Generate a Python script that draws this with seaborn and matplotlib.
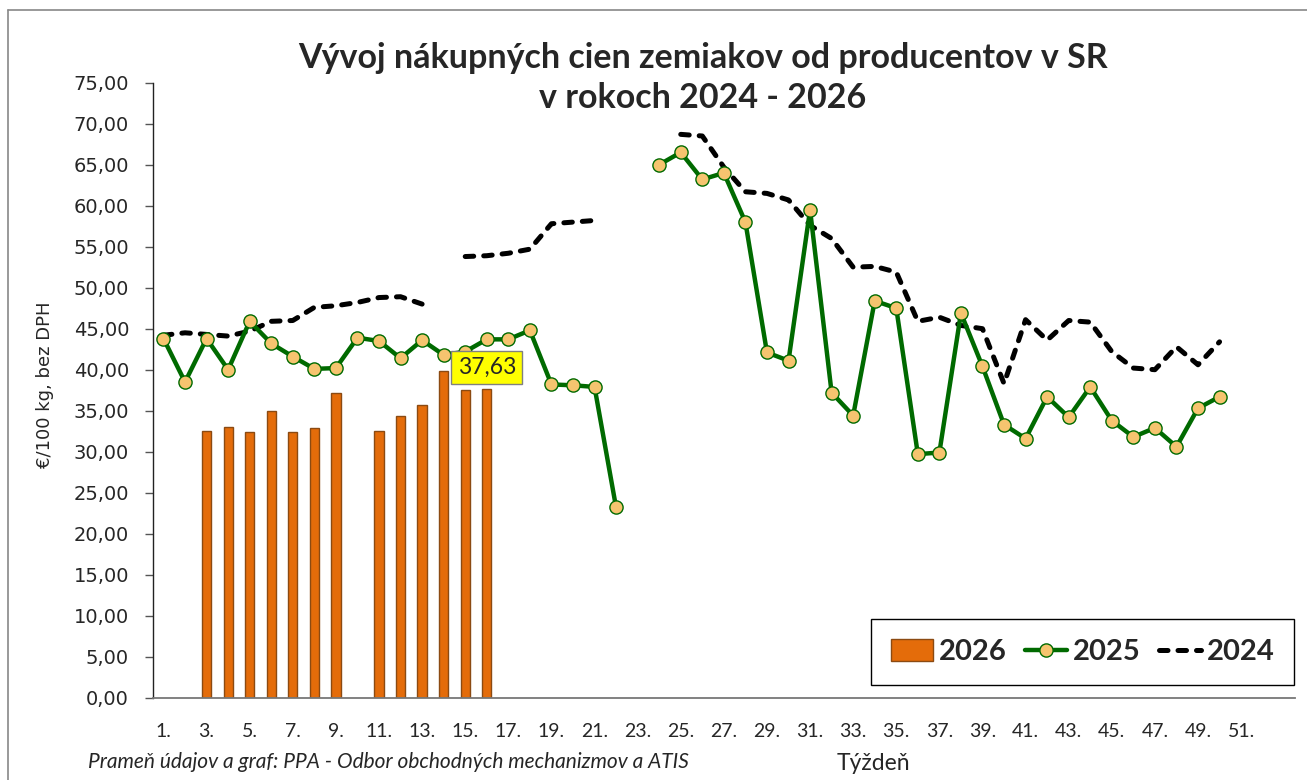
import numpy as np
import pandas as pd
import matplotlib
matplotlib.use("Agg")
import matplotlib.pyplot as plt
import seaborn as sns
from matplotlib.patches import Patch
from matplotlib.lines import Line2D

nan = np.nan
weeks = list(range(1, 54))
tick_weeks = list(range(1, 53, 2))
tick_labels = [f"{w}." for w in tick_weeks]

y2026 = [nan, nan, 32.5, 33.0, 32.4, 35.0, 32.4, 32.9, 37.1, nan,
         32.5, 34.3, 35.7, 39.8, 37.5, 37.63] + [nan] * 37
y2025 = [43.8, 38.5, 43.8, 40.0, 45.9, 43.2, 41.6, 40.1, 40.2, 43.9,
         43.5, 41.4, 43.6, 41.8, 42.2, 43.7, 43.7, 44.8, 38.2, 38.1,
         37.9, 23.2, nan, 65.0, 66.5, 63.2, 64.0, 58.0, 42.1, 41.1,
         59.5, 37.2, 34.4, 48.4, 47.5, 29.7, 29.9, 46.9, 40.4, 33.3,
         31.6, 36.7, 34.2, 37.9, 33.8, 31.8, 32.9, 30.6, 35.3, 36.7,
         nan, nan, nan]
y2024 = [44.2, 44.5, 44.3, 44.1, 44.7, 45.9, 46.0, 47.6, 47.8, 48.2,
         48.8, 48.9, 48.0, nan, 53.8, 53.9, 54.2, 54.7, 57.8, 58.0,
         58.2, nan, nan, nan, 68.7, 68.5, 64.7, 61.7, 61.5, 60.7,
         57.6, 56.0, 52.5, 52.6, 51.9, 45.9, 46.4, 45.4, 45.0, 38.3,
         46.1, 43.6, 46.0, 45.8, 42.2, 40.2, 40.0, 42.8, 40.6, 43.4,
         nan, nan, nan]
label_week = 16
label_value = 37.63

ORANGE = "#E46C0A"
ORANGE_EDGE = "#8B4A12"
GREEN = "#006A00"
MARKER_FACE = "#F6C46F"

sns.set_theme(style="white")
plt.rcParams["font.family"] = ["DejaVu Sans"]

W, H = 1307, 780
fig = plt.figure(figsize=(W / 100, H / 100), dpi=100)
ax = fig.add_axes([152.7 / W, 1 - 697.7 / H, (1295 - 152.7) / W, (697.7 - 82.7) / H])

df = pd.DataFrame({"week": weeks, "y2026": y2026, "y2025": y2025, "y2024": y2024})

# bars 2026
bars = df.dropna(subset=["y2026"])
sns.barplot(data=bars, x="week", y="y2026", native_scale=True, width=0.43,
            color=ORANGE, edgecolor=ORANGE_EDGE, linewidth=1.0, saturation=1,
            ax=ax, zorder=2)


def segments(col):
    s = df[["week", col]].copy()
    grp = s[col].isna().cumsum()
    out = []
    for _, g in s.groupby(grp):
        g = g.dropna()
        if len(g):
            out.append(g)
    return out


for seg in segments("y2024"):
    sns.lineplot(data=seg, x="week", y="y2024", ax=ax, color="black", lw=3.6,
                 dashes=False, legend=False, zorder=3)
for ln in ax.lines:
    ln.set_dashes((1.7, 2.0))
    ln.set_dash_capstyle("round")

for seg in segments("y2025"):
    sns.lineplot(data=seg, x="week", y="y2025", ax=ax, color=GREEN, lw=3.2,
                 marker="o", markersize=9.5, markerfacecolor=MARKER_FACE,
                 markeredgecolor=GREEN, markeredgewidth=1.0, legend=False, zorder=4)

ax.set_xlim(0.5, 53.5)
ax.set_ylim(0, 75)
ax.set_yticks(np.arange(0, 76, 5))
ax.set_yticklabels([f"{v:.2f}".replace(".", ",") for v in np.arange(0, 76, 5)], fontsize=14)
ax.set_xticks(tick_weeks)
ax.set_xticklabels(tick_labels, fontsize=14, family="Lato")
ax.tick_params(axis="y", direction="out", length=6, width=1, color="#555555", pad=11, left=True)
ax.tick_params(axis="x", length=0, pad=18)
ax.set_xlabel("")
ax.set_ylabel("")
for side in ["top", "right"]:
    ax.spines[side].set_visible(False)
ax.spines["left"].set_color("#222222")
ax.spines["bottom"].set_color("#777777")
ax.spines["left"].set_linewidth(1.0)
ax.spines["bottom"].set_linewidth(1.3)
ax.grid(False)

ax.annotate(f"{label_value:.2f}".replace(".", ","), xy=(label_week, label_value),
            xytext=(0, 15.5), textcoords="offset points", ha="center", va="center",
            fontsize=16.5, family="Lato",
            bbox=dict(boxstyle="square,pad=0.27", fc="#FFFF00", ec="#808080", lw=1),
            zorder=10)

fig.text(703 / W, 1 - 68 / H, "Vývoj nákupných cien zemiakov od producentov v SR",
         ha="center", va="baseline", fontsize=24.5, fontweight="bold", family="Lato")
fig.text(703 / W, 1 - 108 / H, "v rokoch 2024 - 2026",
         ha="center", va="baseline", fontsize=24.5, fontweight="bold", family="Lato")

fig.text(45 / W, 1 - 385 / H, "€/100 kg, bez DPH", rotation=90, ha="center",
         va="center", fontsize=13)
fig.text(873 / W, 1 - 764 / H, "Týždeň", ha="center", va="center", fontsize=16.5, family="Lato")
fig.text(88 / W, 1 - 762 / H, "Prameň údajov a graf: PPA - Odbor obchodných mechanizmov a ATIS",
         ha="left", va="center", fontsize=15, style="italic", family="Lato")

handles = [
    Patch(facecolor=ORANGE, edgecolor=ORANGE_EDGE, lw=1),
    Line2D([], [], color=GREEN, lw=3.2, marker="o", markersize=9.5,
           markerfacecolor=MARKER_FACE, markeredgecolor=GREEN),
    Line2D([], [], color="black", lw=3.6, dashes=(1.7, 2.0), dash_capstyle="round"),
]
leg = fig.legend(handles, ["2026", "2025", "2024"], loc="center",
                 bbox_to_anchor=(1082.5 / W, 1 - 652 / H), ncol=3, frameon=True,
                 fancybox=False, edgecolor="black", framealpha=1,
                 prop={"family": "Lato", "weight": "bold", "size": 21},
                 handlelength=1.45, handleheight=0.76, handletextpad=0.2,
                 columnspacing=0.62, borderpad=0.68)
leg.get_frame().set_linewidth(1.0)

fig.add_artist(Line2D([8 / W, 8 / W], [0, 1 - 10 / H], transform=fig.transFigure,
                      color="#888888", lw=1.2))
fig.add_artist(Line2D([8 / W, 1], [1 - 10 / H, 1 - 10 / H], transform=fig.transFigure,
                      color="#888888", lw=1.2))

fig.savefig("out.png", dpi=100, facecolor="white")
